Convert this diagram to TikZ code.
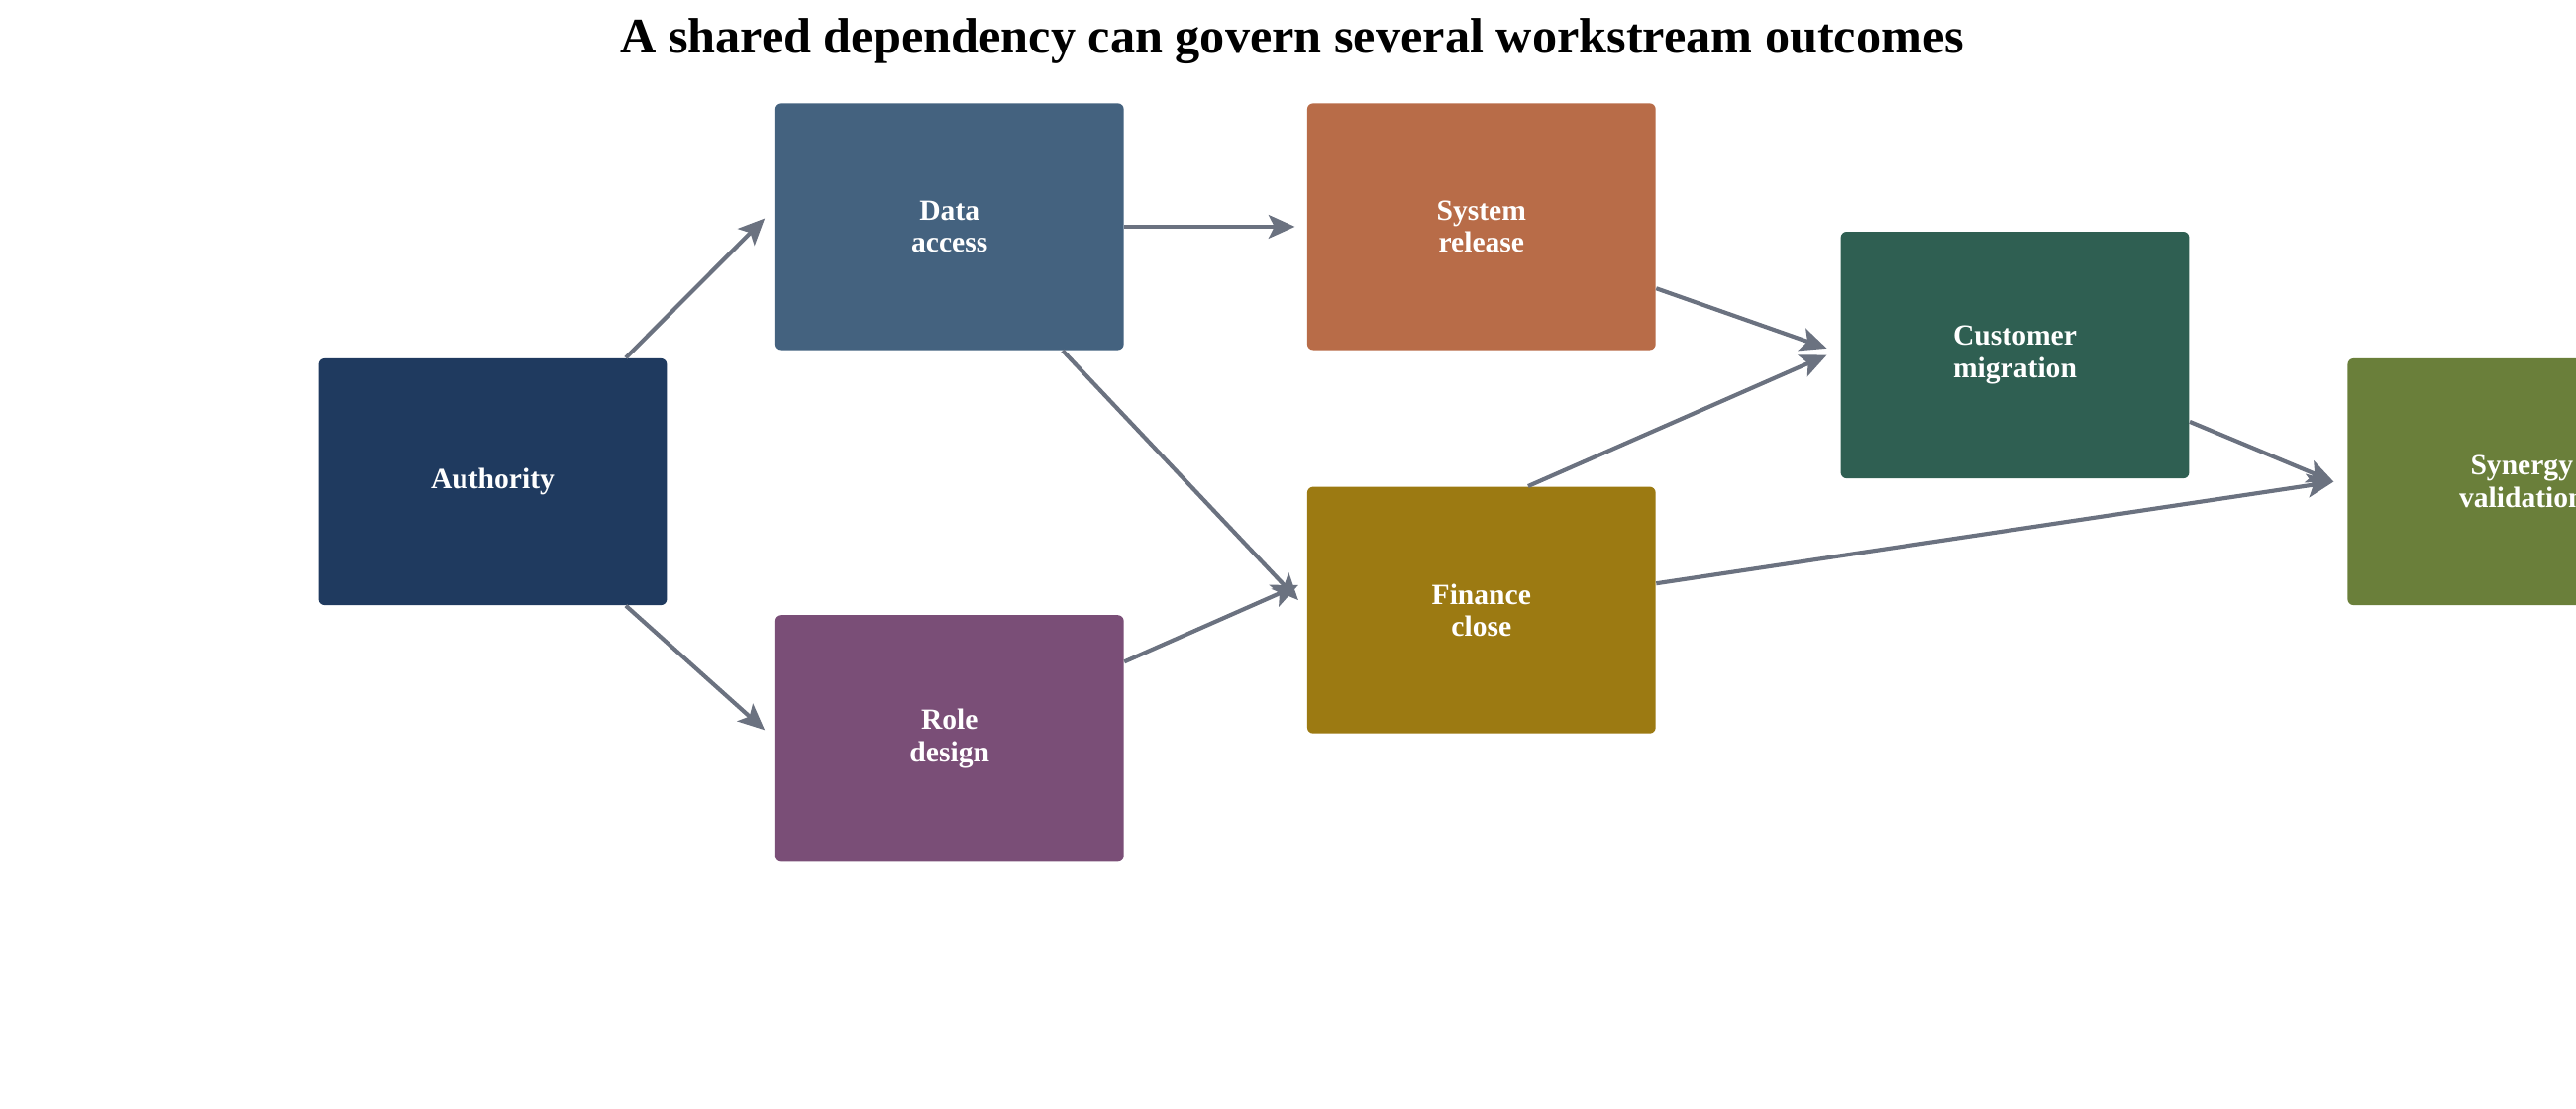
\documentclass[tikz,border=0pt]{standalone}
\usepackage{fontspec}
\setmainfont{Liberation Serif}
\usetikzlibrary{arrows.meta}
\definecolor{cAuth}{HTML}{1F3A5F}
\definecolor{cData}{HTML}{44627F}
\definecolor{cRole}{HTML}{7A4E77}
\definecolor{cSys}{HTML}{B86C48}
\definecolor{cFin}{HTML}{9C7A12}
\definecolor{cCust}{HTML}{2F5F52}
\definecolor{cSyn}{HTML}{6A7F3A}
\definecolor{cEdge}{HTML}{6B7280}
\tikzset{
  box/.style={rectangle, rounded corners=2pt, minimum width=4.18cm, minimum height=2.96cm, text=white, font=\bfseries\fontsize{10}{11}\selectfont, align=center, inner sep=0pt},
  link/.style={-{Stealth[length=9pt,width=8pt,inset=2pt]}, line width=1.4pt, draw=cEdge}
}
\begin{document}
\begin{tikzpicture}[x=0.02cm,y=-0.02cm]
		\useasboundingbox (0,0) rectangle (1545,665);
		\clip (0,0) rectangle (1545,665);
		\node[font=\bfseries\fontsize{17}{20}\selectfont](title) at (775,25){A shared dependency can govern several workstream outcomes};
		\node[box, fill=cAuth](auth) at (295.5,289){Authority};
		\node[box, fill=cData](data) at (569.5,136){Data\\access};
		\node[box, fill=cRole](role) at (569.5,443){Role\\design};
		\node[box, fill=cSys](sys) at (888.5,136){System\\release};
		\node[box, fill=cFin](fin) at (888.5,366){Finance\\close};
		\node[box, fill=cCust](cust) at (1208.5,213){Customer\\migration};
		\node[box, fill=cSyn](syn) at (1512.5,289){Synergy\\validation};
		\draw [link] ([xshift=-0.5cm]auth.north east) -- ([xshift=-0.12cm, yshift=0.1cm]data.west);
		\draw [link] ([xshift=-0.5cm]auth.south east) -- ([xshift=-0.12cm, yshift=0.1cm]role.west);
		\draw [link] (data.east) -- ([xshift=-0.14cm]sys.west);
		\draw [link] ([xshift=-0.74cm]data.south east) -- ([xshift=-0.1cm, yshift=0.12cm]fin.west);
		\draw [link] ([yshift=0.92cm]role.east) -- ([xshift=-0.1cm, yshift=0.3cm]fin.west);
		\draw [link] ([yshift=-0.74cm]sys.east) -- ([xshift=-0.16cm, yshift=0.08cm]cust.west);
		\draw [link] ([xshift=0.56cm]fin.north) -- ([xshift=-0.16cm]cust.west);
		\draw [link] ([yshift=-0.8cm]cust.east) -- ([xshift=-0.16cm]syn.west);
		\draw [link] ([yshift=0.32cm]fin.east) -- ([xshift=-0.16cm]syn.west);
	\end{tikzpicture}
\end{document}
